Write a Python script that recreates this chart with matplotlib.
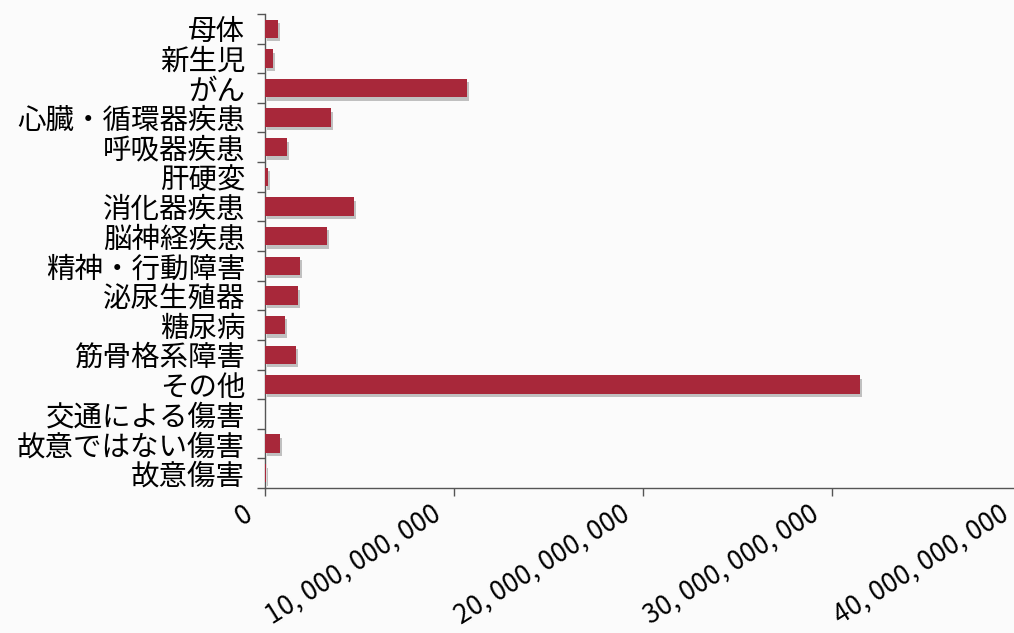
import matplotlib.pyplot as plt
import matplotlib.patheffects as pe
from matplotlib.transforms import ScaledTranslation
from matplotlib.ticker import FuncFormatter
import numpy as np

plt.rcParams['font.family'] = ['Noto Sans CJK JP', 'DejaVu Sans']

# 疾患分類ごとの金額
categories = ['母体', '新生児', 'がん', '心臓・循環器疾患', '呼吸器疾患', '肝硬変',
              '消化器疾患', '脳神経疾患', '精神・行動障害', '泌尿生殖器', '糖尿病',
              '筋骨格系障害', 'その他', '交通による傷害', '故意ではない傷害', '故意傷害']
values = [0.70e9, 0.45e9, 10.7e9, 3.5e9, 1.17e9, 0.18e9,
          4.7e9, 3.3e9, 1.87e9, 1.77e9, 1.07e9,
          1.67e9, 31.5e9, 0.0, 0.83e9, 0.05e9]
x_ticks = [0, 10e9, 20e9, 30e9, 40e9]

fig = plt.figure(figsize=(10.14, 6.33), dpi=100, facecolor='#fbfbfb')
ax = fig.add_axes([0.261, 0.229, 0.746, 0.749])
ax.set_facecolor('#fbfbfb')

y = np.arange(len(categories))
bars = ax.barh(y, values, height=0.62, color='#a8283a', zorder=3)
for b in bars:
    b.set_path_effects([pe.SimplePatchShadow(offset=(1.5, -2.5), shadow_rgbFace='#9a9a9a', alpha=0.6),
                        pe.Normal()])

ax.set_ylim(len(categories) - 0.5, -0.5)
ax.set_xlim(0, 40e9)

# カテゴリ境界に目盛り線
ax.set_yticks(y)
ax.set_yticklabels(categories, fontsize=20.5)
ax.set_yticks(np.arange(-0.5, len(categories)), minor=True)
ax.tick_params(axis='y', which='major', length=0, pad=14)
ax.tick_params(axis='y', which='minor', length=6, width=1, color='#555555')

ax.set_xticks(x_ticks)
ax.xaxis.set_major_formatter(FuncFormatter(lambda v, p: f'{int(v):,}'.replace(',', ', ')))
ax.tick_params(axis='x', length=6, width=1, color='#555555', pad=3)
for lab in ax.get_xticklabels():
    lab.set_fontsize(19)
    lab.set_rotation(32)
    lab.set_ha('right')
    lab.set_va('top')
    lab.set_rotation_mode('anchor')
    lab.set_transform(lab.get_transform() + ScaledTranslation(-16 / 72, 0, fig.dpi_scale_trans))

for s in ['top', 'right']:
    ax.spines[s].set_visible(False)
for s in ['left', 'bottom']:
    ax.spines[s].set_color('#555555')
    ax.spines[s].set_linewidth(1)

fig.savefig('out.png', dpi=100, facecolor=fig.get_facecolor())
